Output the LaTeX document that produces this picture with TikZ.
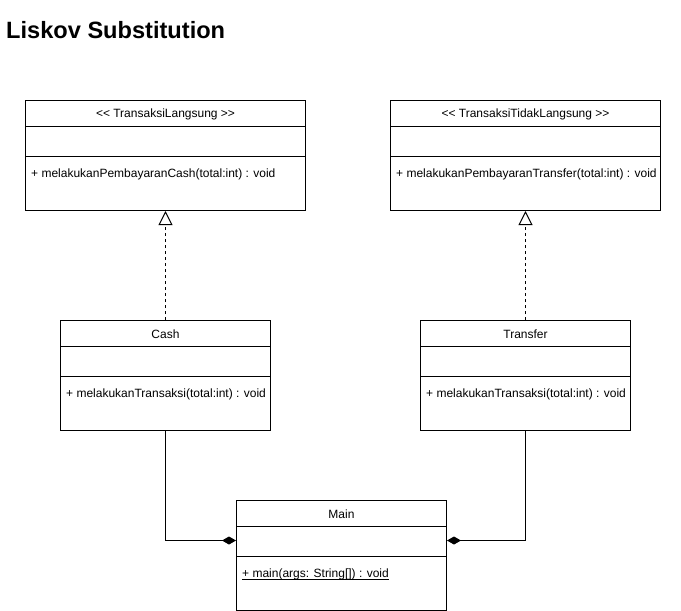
\documentclass[tikz,border=0pt]{standalone}
\usepackage{fontspec}
\setmainfont{Liberation Sans}
\usetikzlibrary{arrows.meta}
\begin{document}
\begin{tikzpicture}[x=1pt,y=-1pt,
  classbox/.style={draw, line width=1pt, rectangle, anchor=north west, inner sep=0pt},
  lbl/.style={inner sep=0pt, font=\fontsize{12pt}{14pt}\selectfont},
  real/.style={dashed, dash pattern=on 3pt off 3pt, line width=1pt, -{Triangle[open, length=14pt, width=14pt, line width=1pt]}},
  comp/.style={line width=1pt, -{Diamond[length=14pt, width=8pt]}}]
\useasboundingbox[fill=white] (0,0) rectangle (681,611);
\node[anchor=base west, inner sep=0pt, font=\fontsize{23.6pt}{26pt}\selectfont\bfseries] (title) at (6,38) {Liskov Substitution};

% boxes
\node[classbox, minimum width=280pt, minimum height=110pt] (tl) at (25,100) {};
\node[classbox, minimum width=270pt, minimum height=110pt] (ttl) at (390,100) {};
\node[classbox, minimum width=210pt, minimum height=110pt] (cash) at (60,320) {};
\node[classbox, minimum width=210pt, minimum height=110pt] (transfer) at (420,320) {};
\node[classbox, minimum width=210pt, minimum height=110pt] (main) at (236,500) {};

% dividers
\foreach \b in {tl,ttl,cash,transfer,main}{
  \draw[line width=1pt] ([yshift=-26pt]\b.north west) -- ([yshift=-26pt]\b.north east);
  \draw[line width=1pt] ([yshift=-56pt]\b.north west) -- ([yshift=-56pt]\b.north east);
}

% headers
\node[lbl] (tlh) at ([yshift=-14.3pt]tl.north) {<\kern0pt< TransaksiLangsung >\kern0pt>};
\node[lbl] (ttlh) at ([yshift=-14.3pt]ttl.north) {<\kern0pt< TransaksiTidakLangsung >\kern0pt>};
\node[lbl] (cashh) at ([yshift=-14.3pt]cash.north) {Cash};
\node[lbl] (transferh) at ([yshift=-14.3pt]transfer.north) {Transfer};
\node[lbl] (mainh) at ([yshift=-14.3pt]main.north) {Main};

% methods
\node[lbl, anchor=west] (tlm) at ([xshift=6pt,yshift=-74.5pt]tl.north west) {+ melakukanPembayaranCash(total:int) : void};
\node[lbl, anchor=west] (ttlm) at ([xshift=6pt,yshift=-74.5pt]ttl.north west) {+ melakukanPembayaranTransfer(total:int) : void};
\node[lbl, anchor=west] (cashm) at ([xshift=6pt,yshift=-74.5pt]cash.north west) {+ melakukanTransaksi(total:int) : void};
\node[lbl, anchor=west] (transferm) at ([xshift=6pt,yshift=-74.5pt]transfer.north west) {+ melakukanTransaksi(total:int) : void};
\node[lbl, anchor=west] (mainm) at ([xshift=6pt,yshift=-74.5pt]main.north west) {+ main(args: String[]) : void};
\draw[line width=0.8pt] ([yshift=-1.8pt]mainm.base west) -- ([yshift=-1.8pt]mainm.base east);

% connectors
\draw[real] (cash.north) -- (tl.south);
\draw[real] (transfer.north) -- (ttl.south);
\draw[comp] (cash.south) |- ([yshift=15pt]main.west);
\draw[comp] (transfer.south) |- ([yshift=15pt]main.east);
\end{tikzpicture}
\end{document}
